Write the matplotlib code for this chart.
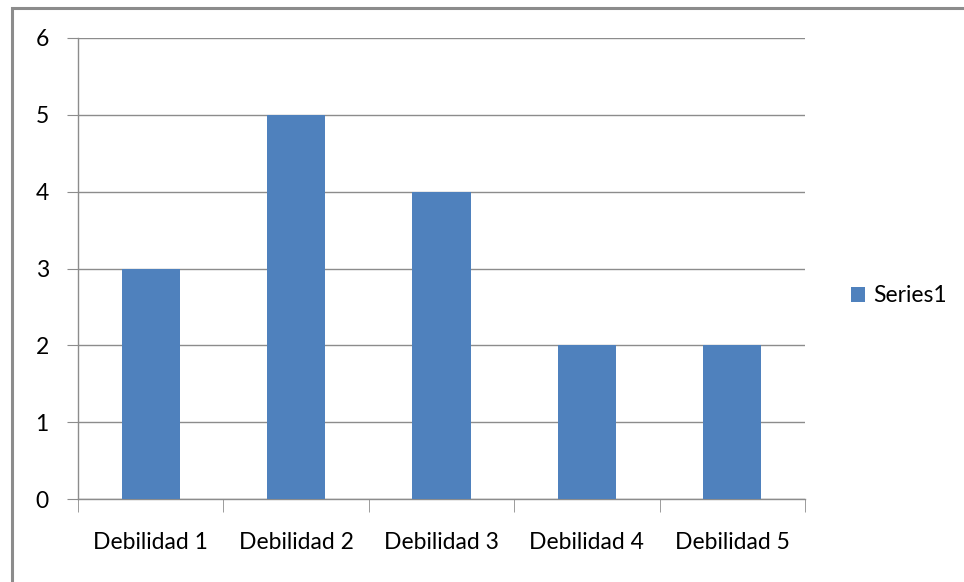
import matplotlib
matplotlib.use('Agg')
import matplotlib.pyplot as plt
from matplotlib.patches import Rectangle

categorias = ["Debilidad 1", "Debilidad 2", "Debilidad 3", "Debilidad 4", "Debilidad 5"]
valores = [3, 5, 4, 2, 2]
serie = "Series1"
ticks_y = [0, 1, 2, 3, 4, 5, 6]

plt.rcParams['font.family'] = ['Lato', 'DejaVu Sans']
FS = 16.5

W, H = 964, 582
fig = plt.figure(figsize=(W / 100, H / 100), dpi=100)
ax = fig.add_axes([78 / W, 1 - 499 / H, (805 - 78) / W, (499 - 38) / H])

# marco exterior (recortado a la derecha y abajo)
fig.patches.append(Rectangle((11.5 / W, -0.1), 1.2, (H - 7.5) / H + 0.1,
                             transform=fig.transFigure, fill=False,
                             edgecolor='#8c8c8c', linewidth=2.2, zorder=0))

x = list(range(len(categorias)))
ax.bar(x, valores, width=0.4, color='#4F81BD', zorder=3, label=serie)

ax.set_xlim(-0.5, len(categorias) - 0.5)
ax.set_ylim(0, 6)
ax.set_yticks(ticks_y)
ax.set_yticklabels([str(t) for t in ticks_y], fontsize=FS)
ax.set_xticks(x)
ax.set_xticklabels(categorias, fontsize=FS)
ax.set_xticks([i - 0.5 for i in range(len(categorias) + 1)], minor=True)

ax.grid(axis='y', color='#8c8c8c', linewidth=1, zorder=0)
for s in ['top', 'right']:
    ax.spines[s].set_visible(False)
for s in ['left', 'bottom']:
    ax.spines[s].set_color('#8c8c8c')
    ax.spines[s].set_linewidth(1)

ax.tick_params(axis='y', length=8, color='#8c8c8c', pad=13)
ax.tick_params(axis='x', which='major', length=0, pad=24)
ax.tick_params(axis='x', which='minor', length=9, color='#8c8c8c')

leg = fig.legend(loc='center left', bbox_to_anchor=(842 / W, 1 - 296 / H),
                 frameon=False, fontsize=FS, handlelength=0.6, handleheight=0.6,
                 handletextpad=0.35, borderaxespad=0)

fig.savefig('out.png', dpi=100)
